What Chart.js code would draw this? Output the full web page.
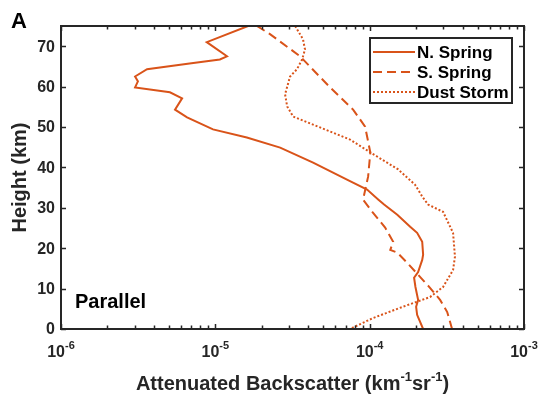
<!DOCTYPE html>
<html>
<head>
<meta charset="utf-8">
<script src="https://cdn.jsdelivr.net/npm/chart.js@4/dist/chart.umd.min.js"></script>
<style>
  html, body { margin: 0; padding: 0; background: #fff; }
  #wrap { width: 542px; height: 401px; }
</style>
</head>
<body>
<div id="wrap"><canvas id="c" width="542" height="401"></canvas></div>
<script>
// ---- Data ----
const seriesNames = ["N. Spring", "S. Spring", "Dust Storm"];

const nSpringHeight = [75, 71.0, 67.5, 66.7, 65.8, 64.3, 62.5, 61.3, 59.8, 58.6, 57.1, 54.3, 52.4, 49.4, 47.4, 44.9, 41.2, 37.0, 34.5, 32.0, 30.8, 28.3, 25.3, 23.8, 21.6, 18.4, 17.1, 14.1, 12.7, 10.4, 7.2, 5.5, 3.5, 0];
const nSpringValue  = [1.63e-5, 8.8e-6, 1.19e-5, 1.07e-5, 7.0e-6, 3.61e-6, 3.02e-6, 3.15e-6, 3.02e-6, 5.08e-6, 6.09e-6, 5.48e-6, 6.56e-6, 9.66e-6, 1.60e-5, 2.63e-5, 4.30e-5, 7.13e-5, 9.62e-5, 1.14e-4, 1.24e-4, 1.51e-4, 1.83e-4, 2.03e-4, 2.19e-4, 2.22e-4, 2.19e-4, 2.06e-4, 1.94e-4, 1.98e-4, 2.06e-4, 2.00e-4, 2.03e-4, 2.22e-4];

const sSpringHeight = [75, 73.0, 67.5, 59.8, 54.3, 50.1, 43.7, 37.7, 32.0, 29.0, 25.1, 21.6, 19.6, 18.9, 16.4, 12.9, 10.2, 7.2, 4.2, 0];
const sSpringValue  = [1.86e-5, 2.26e-5, 3.54e-5, 5.54e-5, 7.81e-5, 9.34e-5, 1.01e-4, 9.77e-5, 9.06e-5, 1.04e-4, 1.26e-4, 1.42e-4, 1.36e-4, 1.51e-4, 1.75e-4, 2.12e-4, 2.46e-4, 2.86e-4, 3.18e-4, 3.42e-4];

const dustHeight = [75, 71.7, 69.2, 66.7, 64.3, 62.5, 58.1, 55.1, 52.6, 49.9, 46.9, 43.7, 39.5, 35.7, 32.8, 30.8, 29.0, 23.8, 17.9, 14.6, 10.4, 7.9, 5.5, 2.7, 0];
const dustValue  = [3.29e-5, 3.70e-5, 3.81e-5, 3.65e-5, 3.38e-5, 3.05e-5, 2.83e-5, 2.92e-5, 3.19e-5, 4.77e-5, 7.46e-5, 1.01e-4, 1.53e-4, 1.97e-4, 2.19e-4, 2.39e-4, 2.99e-4, 3.47e-4, 3.57e-4, 3.47e-4, 2.99e-4, 2.46e-4, 1.64e-4, 1.05e-4, 7.46e-5];

const yTicks = [0, 10, 20, 30, 40, 50, 60, 70];
const xTickExponents = [-6, -5, -4, -3];
const xMinorMultipliers = [2, 3, 4, 5, 6, 7, 8, 9];

// ---- Styles ----
const LINE_COLOR = '#D95319';
const AXIS_COLOR = '#262626';
const FONT = '"Liberation Sans", Arial, Helvetica, sans-serif';

function pts(xs, ys) { return xs.map((v, i) => ({ x: v, y: ys[i] })); }

const dashStyles = [[], [9, 5], [2, 2]];

const datasets = [
  { label: seriesNames[0], data: pts(nSpringValue, nSpringHeight), borderDash: dashStyles[0] },
  { label: seriesNames[1], data: pts(sSpringValue, sSpringHeight), borderDash: dashStyles[1] },
  { label: seriesNames[2], data: pts(dustValue, dustHeight), borderDash: dashStyles[2] }
].map(d => Object.assign(d, {
  showLine: true, borderColor: LINE_COLOR, backgroundColor: LINE_COLOR,
  borderWidth: 2, pointRadius: 0, tension: 0, fill: false
}));

function drawSup(ctx, base, sup, cx, baseY, baseFont, supFont, supRise, align) {
  ctx.font = baseFont; const wb = ctx.measureText(base).width;
  ctx.font = supFont; const ws = ctx.measureText(sup).width;
  const total = wb + ws;
  let x = align === 'center' ? cx - total / 2 : cx;
  ctx.textAlign = 'left'; ctx.textBaseline = 'alphabetic';
  ctx.font = baseFont; ctx.fillText(base, x, baseY);
  ctx.font = supFont; ctx.fillText(sup, x + wb, baseY - supRise);
  return total;
}

const decor = {
  id: 'decor',
  afterDraw(chart) {
    const ctx = chart.ctx;
    const a = chart.chartArea;
    const xs = chart.scales.x, ys = chart.scales.y;
    ctx.save();
    ctx.strokeStyle = AXIS_COLOR; ctx.fillStyle = AXIS_COLOR;
    // frame
    ctx.lineWidth = 2;
    ctx.strokeRect(a.left, a.top, a.right - a.left, a.bottom - a.top);
    // y ticks (inward, left & right)
    ctx.lineWidth = 1.5;
    yTicks.forEach(t => {
      const py = Math.round(ys.getPixelForValue(t)) + 0.5;
      ctx.beginPath();
      ctx.moveTo(a.left, py); ctx.lineTo(a.left + 5, py);
      ctx.moveTo(a.right, py); ctx.lineTo(a.right - 5, py);
      ctx.stroke();
    });
    // x ticks (major + minor, inward, bottom & top)
    xTickExponents.forEach((e, i) => {
      const px = Math.round(xs.getPixelForValue(Math.pow(10, e))) + 0.5;
      ctx.beginPath();
      ctx.moveTo(px, a.bottom); ctx.lineTo(px, a.bottom - 5);
      ctx.moveTo(px, a.top); ctx.lineTo(px, a.top + 5);
      ctx.stroke();
      if (i < xTickExponents.length - 1) {
        xMinorMultipliers.forEach(m => {
          const qx = Math.round(xs.getPixelForValue(m * Math.pow(10, e))) + 0.5;
          ctx.beginPath();
          ctx.moveTo(qx, a.bottom); ctx.lineTo(qx, a.bottom - 3.5);
          ctx.moveTo(qx, a.top); ctx.lineTo(qx, a.top + 3.5);
          ctx.stroke();
        });
      }
    });
    // y tick labels
    ctx.font = 'bold 16px ' + FONT;
    ctx.textAlign = 'right'; ctx.textBaseline = 'middle';
    yTicks.forEach(t => {
      ctx.fillText(String(t), a.left - 6, ys.getPixelForValue(t) + 1);
    });
    // x tick labels with superscript exponent
    xTickExponents.forEach(e => {
      const px = xs.getPixelForValue(Math.pow(10, e));
      drawSup(ctx, '10', String(e), px, a.bottom + 28,
        'bold 16px ' + FONT, 'bold 11px ' + FONT, 8, 'center');
    });
    // x axis title
    {
      const bf = 'bold 20px ' + FONT, sf = 'bold 13px ' + FONT;
      const parts = [['Attenuated Backscatter (km', false], ['-1', true], ['sr', false], ['-1', true], [')', false]];
      let total = 0;
      parts.forEach(p => { ctx.font = p[1] ? sf : bf; total += ctx.measureText(p[0]).width; });
      let x = (a.left + a.right) / 2 - total / 2;
      const by = 390;
      ctx.textAlign = 'left'; ctx.textBaseline = 'alphabetic';
      parts.forEach(p => {
        ctx.font = p[1] ? sf : bf;
        ctx.fillText(p[0], x, p[1] ? by - 9 : by);
        x += ctx.measureText(p[0]).width;
      });
    }
    // y axis title
    ctx.save();
    ctx.translate(20, (a.top + a.bottom) / 2);
    ctx.rotate(-Math.PI / 2);
    ctx.font = 'bold 20px ' + FONT;
    ctx.textAlign = 'center'; ctx.textBaseline = 'middle';
    ctx.fillText('Height (km)', 0, 0);
    ctx.restore();
    // panel letter and annotation
    ctx.fillStyle = '#000';
    ctx.font = 'bold 22px ' + FONT;
    ctx.textAlign = 'left'; ctx.textBaseline = 'alphabetic';
    ctx.fillText('A', 11, 28);
    ctx.font = 'bold 20px ' + FONT;
    ctx.fillText('Parallel', 75, 308);
    // legend
    const lx = 370, ly = 38, lw = 142, lh = 65;
    ctx.fillStyle = '#fff';
    ctx.fillRect(lx, ly, lw, lh);
    ctx.strokeStyle = AXIS_COLOR; ctx.lineWidth = 2;
    ctx.strokeRect(lx, ly, lw, lh);
    chart.data.datasets.forEach((d, i) => {
      const yy = ly + 14 + i * 20;
      ctx.strokeStyle = d.borderColor; ctx.lineWidth = d.borderWidth;
      ctx.setLineDash(d.borderDash || []);
      ctx.beginPath(); ctx.moveTo(lx + 3, yy); ctx.lineTo(lx + 45, yy); ctx.stroke();
      ctx.setLineDash([]);
      ctx.fillStyle = '#000';
      ctx.font = 'bold 17px ' + FONT;
      ctx.textAlign = 'left'; ctx.textBaseline = 'middle';
      ctx.fillText(d.label, lx + 47, yy + 1);
    });
    ctx.restore();
  }
};

new Chart(document.getElementById('c'), {
  type: 'scatter',
  data: { datasets },
  options: {
    responsive: false,
    animation: false,
    devicePixelRatio: 1,
    layout: { padding: { left: 61, top: 26, right: 18, bottom: 72 } },
    plugins: { legend: { display: false }, tooltip: { enabled: false } },
    scales: {
      x: {
        type: 'logarithmic', min: 1e-6, max: 1e-3,
        ticks: { display: false }, grid: { display: false, drawTicks: false },
        border: { display: false }, title: { display: false }
      },
      y: {
        type: 'linear', min: 0, max: 75,
        ticks: { display: false }, grid: { display: false, drawTicks: false },
        border: { display: false }, title: { display: false }
      }
    }
  },
  plugins: [decor]
});
</script>
</body>
</html>
